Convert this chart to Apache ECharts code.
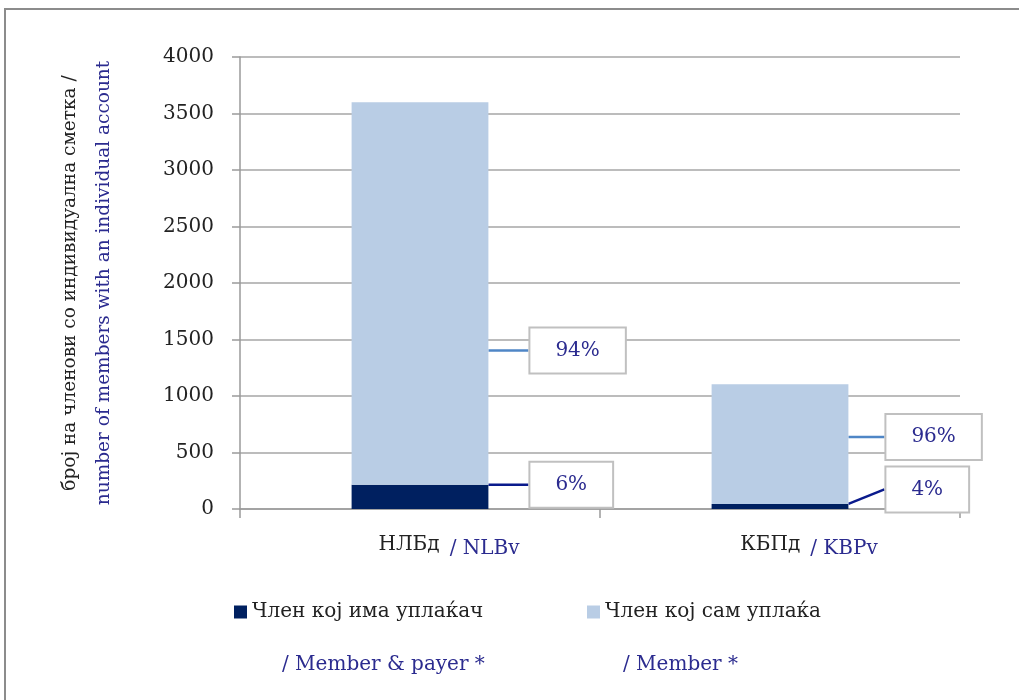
<!DOCTYPE html>
<html>
<head>
<meta charset="utf-8">
<script src="https://cdn.jsdelivr.net/npm/echarts@6/dist/echarts.min.js"></script>
<style>
  html, body { margin: 0; padding: 0; background: #fff; }
  #chart { width: 1019px; height: 700px; }
</style>
</head>
<body>
<div id="chart"></div>
<script>
// categories (mk / en)
const catMk = ['НЛБд', 'КБПд']
const catEn = ['NLBv', 'KBPv']
// series
const seriesNames = ['Член кој има уплаќач', 'Член кој сам уплаќа']
const seriesEn = ['/ Member & payer *', '/ Member *']
const payerValues = [215, 45]
const selfValues = [3385, 1060]
// y axis
const yMin = 0
const yMax = 4000
const yStep = 500

const FONT = 'DejaVu Serif'
const BLUE_TXT = '#2b2b8f'

const totals = payerValues.map((v, i) => v + selfValues[i])
const pct = (v, i) => Math.round(v / totals[i] * 100) + '%'

const categories = catMk.map((m, i) => m + '|' + catEn[i])

// label offsets (relative to right-middle of each bar segment)
const payerDx = [42, 38]
const payerDy = [-12, -17]
const selfDx = [42, 38]
const selfDy = [57, -7]

const chart = echarts.init(document.getElementById('chart'))

const boxLabel = {
  show: true,
  position: 'right',
  distance: 0,
  fontFamily: FONT,
  fontSize: 20,
  color: BLUE_TXT,
  backgroundColor: '#fff',
  borderColor: '#c0c0c0',
  borderWidth: 2,
  padding: [12, 25]
}

chart.setOption({
  animation: false,
  backgroundColor: '#fff',
  graphic: [
    {
      type: 'rect',
      shape: { x: 5, y: 9, width: 1040, height: 720 },
      style: { fill: 'none', stroke: '#8c8c8c', lineWidth: 2 },
      silent: true
    }
  ],
  grid: {
    left: 240,
    right: 59,
    top: 57,
    bottom: 191
  },
  legend: [0, 1].map(i => ({
    data: [seriesNames[i]],
    left: i === 0 ? 229 : 582,
    top: 514,
    icon: 'rect',
    itemWidth: 13,
    itemHeight: 13,
    itemGap: 0,
    selectedMode: false,
    formatter: name => '{e| }\n' + name + '\n{b|' + seriesEn[i] + '}',
    textStyle: {
      fontFamily: FONT,
      fontSize: 20,
      color: '#222',
      lineHeight: 26,
      rich: {
        e: { lineHeight: 80, fontSize: 20 },
        b: {
          lineHeight: 80,
          fontSize: 20,
          fontFamily: FONT,
          color: BLUE_TXT,
          padding: [0, 0, 0, i === 0 ? 30 : 18]
        }
      }
    }
  })),
  xAxis: {
    type: 'category',
    data: categories,
    axisLine: { lineStyle: { color: '#9a9a9a', width: 1.5 } },
    axisTick: { show: true, length: 9, lineStyle: { color: '#9a9a9a', width: 1.5 } },
    axisLabel: {
      margin: 22,
      formatter: v => {
        const p = v.split('|')
        return '{a|' + p[0] + '}{b|/ ' + p[1] + '}'
      },
      rich: {
        a: { fontFamily: FONT, fontSize: 20, color: '#222', padding: [0, 10, 0, 58] },
        b: { fontFamily: FONT, fontSize: 20, color: BLUE_TXT, padding: [8, 0, 0, 0] }
      }
    }
  },
  yAxis: {
    type: 'value',
    min: yMin,
    max: yMax,
    interval: yStep,
    name: '{a|број на членови со индивидуална сметка /}\n{b|number of members with an individual account}',
    nameLocation: 'middle',
    nameRotate: 90,
    nameGap: 119,
    nameTextStyle: {
      rich: {
        a: { fontFamily: FONT, fontSize: 18.5, color: '#222', lineHeight: 34 },
        b: { fontFamily: FONT, fontSize: 18.5, color: BLUE_TXT, lineHeight: 34 }
      }
    },
    axisLine: { show: true, lineStyle: { color: '#9a9a9a', width: 1.5 } },
    axisTick: { show: true, length: 8, lineStyle: { color: '#9a9a9a', width: 1.5 } },
    axisLabel: {
      margin: 26,
      fontFamily: FONT,
      fontSize: 20,
      color: '#222',
      formatter: v => String(v)
    },
    splitLine: { lineStyle: { color: '#a6a6a6', width: 1.5 } }
  },
  series: [
    {
      name: seriesNames[0],
      type: 'bar',
      stack: 'total',
      barWidth: '38%',
      itemStyle: { color: '#002060' },
      data: payerValues,
      label: Object.assign({}, boxLabel, {
        formatter: p => pct(p.value, p.dataIndex)
      }),
      labelLayout: p => ({ dx: payerDx[p.dataIndex], dy: payerDy[p.dataIndex] }),
      labelLine: { show: true, lineStyle: { color: '#0a1a8c', width: 2.5 } }
    },
    {
      name: seriesNames[1],
      type: 'bar',
      stack: 'total',
      barWidth: '38%',
      itemStyle: { color: '#b9cde5' },
      data: selfValues,
      label: Object.assign({}, boxLabel, {
        formatter: p => pct(p.value, p.dataIndex)
      }),
      labelLayout: p => ({ dx: selfDx[p.dataIndex], dy: selfDy[p.dataIndex] }),
      labelLine: { show: true, lineStyle: { color: '#4f86c6', width: 2.5 } }
    }
  ]
})

window.addEventListener('resize', () => {
  chart.resize()
})
</script>
</body>
</html>
